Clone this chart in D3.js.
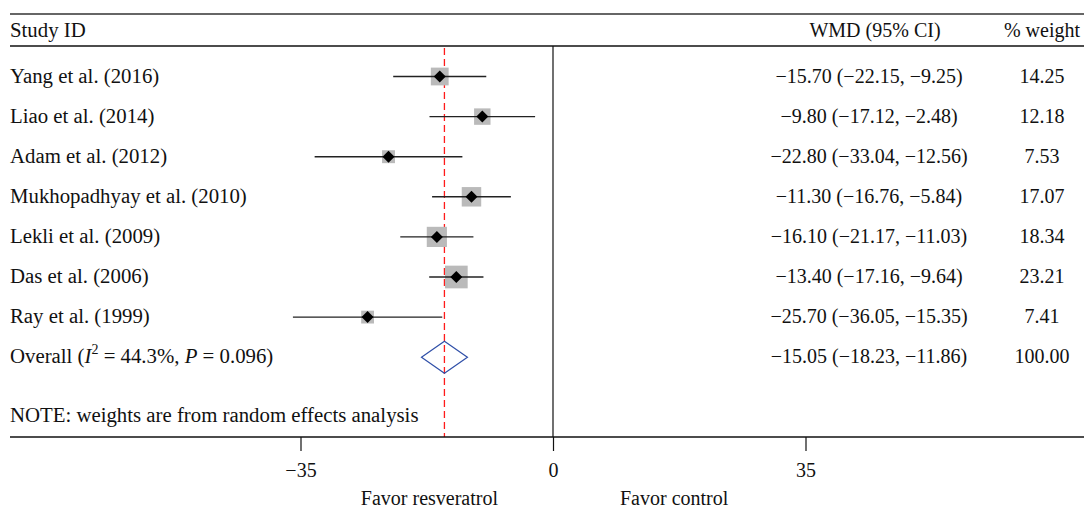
<!DOCTYPE html>
<html>
<head>
<meta charset="utf-8">
<script src="https://cdn.jsdelivr.net/npm/d3@7"></script>
<style>
  body { margin: 0; background: #fff; }
  svg text { font-family: "Liberation Serif", "Times New Roman", serif; font-size: 20px; fill: #111; }
  svg text.lab { font-size: 20.8px; }
</style>
</head>
<body>
<div id="forest-container"></div>
<script>
const studies = ["Yang et al. (2016)", "Liao et al. (2014)", "Adam et al. (2012)",
    "Mukhopadhyay et al. (2010)", "Lekli et al. (2009)", "Das et al. (2006)", "Ray et al. (1999)"];
const wmd = [-15.70, -9.80, -22.80, -11.30, -16.10, -13.40, -25.70];
const ciLow = [-22.15, -17.12, -33.04, -16.76, -21.17, -17.16, -36.05];
const ciHigh = [-9.25, -2.48, -12.56, -5.84, -11.03, -9.64, -15.35];
const weights = [14.25, 12.18, 7.53, 17.07, 18.34, 23.21, 7.41];

const overallWmd = -15.05;
const overallLow = -18.23;
const overallHigh = -11.86;
const overallWeight = 100.00;
const i2 = 44.3;
const pValue = 0.096;

const tickValues = [-35, 0, 35];

const width = 1084, height = 512;
const svg = d3.select("#forest-container")
    .append("svg")
    .attr("width", width)
    .attr("height", height);

const x = d3.scaleLinear().domain([-35, 35]).range([300.5, 805.5]);
const y = d3.scaleLinear().domain([0, studies.length]).range([76.5, 357.2]);
const box = d3.scaleSqrt().domain([0, d3.max(weights)]).range([0, 22.7]);
const f2 = d3.format(".2f");

const colWmd = 869, colWeight = 1042;
const topY = 14, headLine = 46, axisY = 437;

// frame lines
svg.append("line").attr("x1", 10).attr("x2", width).attr("y1", topY).attr("y2", topY)
    .style("stroke", "#333").style("stroke-width", 1.6);
svg.append("line").attr("x1", 10).attr("x2", width).attr("y1", headLine).attr("y2", headLine)
    .style("stroke", "#111").style("stroke-width", 1.4);

// header
svg.append("text").attr("class", "lab").attr("x", 10).attr("y", 37).text("Study ID");
svg.append("text").attr("x", colWmd + 6).attr("y", 37).attr("text-anchor", "middle").text("WMD (95% CI)");
svg.append("text").attr("x", colWeight).attr("y", 37).attr("text-anchor", "middle").text("% weight");

// zero line
svg.append("line").attr("x1", x(0)).attr("x2", x(0)).attr("y1", headLine).attr("y2", axisY)
    .style("stroke", "#111").style("stroke-width", 1.2);

// overall dashed line
svg.append("line").attr("x1", x(overallWmd)).attr("x2", x(overallWmd)).attr("y1", headLine + 2).attr("y2", axisY)
    .style("stroke", "#ff1a1a").style("stroke-width", 1.3).style("stroke-dasharray", "7,4");

const rows = studies.map((s, i) => ({ name: s, wmd: wmd[i], lo: ciLow[i], hi: ciHigh[i], w: weights[i], i: i }));

// weight boxes
svg.selectAll(".box").data(rows).enter().append("rect")
    .attr("x", d => x(d.wmd) - box(d.w) / 2)
    .attr("y", d => y(d.i) - box(d.w) / 2)
    .attr("width", d => box(d.w))
    .attr("height", d => box(d.w))
    .style("fill", "#bababa");

// CI lines
svg.selectAll(".ci").data(rows).enter().append("line")
    .attr("x1", d => x(d.lo)).attr("x2", d => x(d.hi))
    .attr("y1", d => y(d.i)).attr("y2", d => y(d.i))
    .style("stroke", "#222").style("stroke-width", 1.4);

// point estimates
svg.selectAll(".pt").data(rows).enter().append("path")
    .attr("d", d3.symbol(d3.symbolSquare, 72))
    .attr("transform", d => `translate(${x(d.wmd)},${y(d.i)}) rotate(45)`)
    .style("fill", "#000");

// labels and columns
svg.selectAll(".lab-row").data(rows).enter().append("text")
    .attr("class", "lab")
    .attr("x", 10).attr("y", d => y(d.i) + 6).text(d => d.name);
svg.selectAll(".est").data(rows).enter().append("text")
    .attr("x", colWmd).attr("y", d => y(d.i) + 6).attr("text-anchor", "middle")
    .text(d => `${f2(d.wmd)} (${f2(d.lo)}, ${f2(d.hi)})`);
svg.selectAll(".wt").data(rows).enter().append("text")
    .attr("x", colWeight).attr("y", d => y(d.i) + 6).attr("text-anchor", "middle")
    .text(d => f2(d.w));

// overall
const oy = y(studies.length);
svg.append("path")
    .attr("d", `M${x(overallLow)},${oy} L${x(overallWmd)},${oy - 16} L${x(overallHigh)},${oy} L${x(overallWmd)},${oy + 16} Z`)
    .style("fill", "none").style("stroke", "#2f4fa8").style("stroke-width", 1.2);

const ol = svg.append("text").attr("class", "lab").attr("x", 10).attr("y", oy + 6);
ol.append("tspan").text("Overall (");
ol.append("tspan").style("font-style", "italic").text("I");
ol.append("tspan").attr("dy", -9).style("font-size", "14px").text("2");
ol.append("tspan").attr("dy", 9).text(` = ${i2}%, `);
ol.append("tspan").style("font-style", "italic").text("P");
ol.append("tspan").text(` = ${pValue.toFixed(3)})`);

svg.append("text").attr("x", colWmd).attr("y", oy + 6).attr("text-anchor", "middle")
    .text(`${f2(overallWmd)} (${f2(overallLow)}, ${f2(overallHigh)})`);
svg.append("text").attr("x", colWeight).attr("y", oy + 6).attr("text-anchor", "middle")
    .text(f2(overallWeight));

svg.append("text").attr("class", "lab").attr("x", 10).attr("y", 422).text("NOTE: weights are from random effects analysis");

// x axis
svg.append("line").attr("x1", 10).attr("x2", width).attr("y1", axisY).attr("y2", axisY)
    .style("stroke", "#111").style("stroke-width", 1.6);
const axis = svg.append("g").attr("transform", `translate(0,${axisY})`)
    .call(d3.axisBottom(x).tickValues(tickValues).tickSize(14).tickPadding(12).tickFormat(d3.format("d")));
axis.select(".domain").remove();
axis.selectAll(".tick line").style("stroke", "#111").style("stroke-width", 1.2);
axis.selectAll(".tick text").style("font-family", "Liberation Serif, serif").style("font-size", "20px").style("fill", "#111");

svg.append("text").attr("x", x(0) - 55).attr("y", 505).attr("text-anchor", "end").text("Favor resveratrol");
svg.append("text").attr("x", x(0) + 67).attr("y", 505).text("Favor control");
</script>
</body>
</html>
